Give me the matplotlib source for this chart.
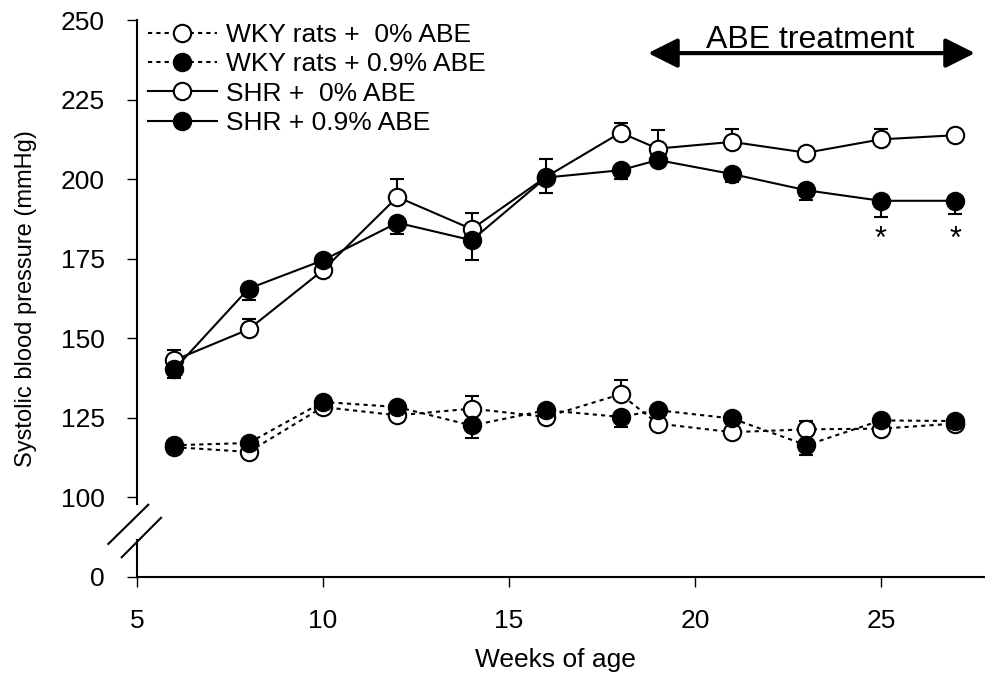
import matplotlib
matplotlib.use("Agg")
import matplotlib.pyplot as plt

plt.rcParams["font.family"] = "sans-serif"
plt.rcParams["font.sans-serif"] = ["Liberation Sans"]

weeks = [6, 8, 10, 12, 14, 16, 18, 19, 21, 23, 25, 27]

wky_0 = [115.8, 114.3, 128.4, 125.8, 127.9, 125.3, 132.4, 123.2, 120.5, 121.4, 121.6, 123.2]
wky_0_err = [1, 1, 1, 1, 4.0, 1, 4.4, 1, 1, 2.6, 1, 1]
wky_09 = [116.4, 117.1, 130.0, 128.4, 122.6, 127.4, 125.3, 127.4, 124.8, 116.4, 124.2, 124.0]
wky_09_err = [1, 1, 1, 1, 3.8, 1, 3.2, 1, 1, 3.2, 1, 1]

shr_0 = [143.1, 152.8, 171.4, 194.4, 184.3, 200.7, 214.6, 209.6, 211.7, 208.3, 212.5, 213.8]
shr_0_err = [3.1, 3.2, 1, 5.5, 5.2, 5.5, 3.1, 5.8, 4.0, 1, 3.2, 1]
shr_09 = [140.2, 165.6, 174.5, 186.3, 180.8, 200.5, 202.8, 206.0, 201.6, 196.5, 193.2, 193.2]
shr_09_err = [2.8, 3.6, 1, 3.6, 6.3, 5.0, 2.9, 1, 2.6, 3.1, 5.1, 4.0]

labels = ["WKY rats +  0% ABE", "WKY rats + 0.9% ABE", "SHR +  0% ABE", "SHR + 0.9% ABE"]
sig_weeks = [25, 27]

yticks = [75, 100, 125, 150, 175, 200, 225, 250]
ytick_labels = ["0", "100", "125", "150", "175", "200", "225", "250"]
xticks = [5, 10, 15, 20, 25]

fig = plt.figure(figsize=(9.85, 6.88), dpi=100)
ax = fig.add_axes([137 / 985, 111 / 688, 848 / 985, 557 / 688])

dot = (0, (2, 2))
series = [
    (wky_0, wky_0_err, "white", dot, "up"),
    (wky_09, wky_09_err, "black", dot, "down"),
    (shr_0, shr_0_err, "white", "-", "up"),
    (shr_09, shr_09_err, "black", "-", "down"),
]
zero = [0] * len(weeks)
handles = []
for (vals, err, face, ls, side), lab in zip(series, labels):
    yerr = [zero, err] if side == "up" else [err, zero]
    ax.errorbar(weeks, vals, yerr=yerr, fmt="none", ecolor="black",
                elinewidth=1.5, capsize=5, capthick=1.5, zorder=2)
    ln, = ax.plot(weeks, vals, color="black", linestyle=ls, lw=1.5,
                  marker="o", ms=12.5, mfc=face, mec="black", mew=1.5,
                  label=lab, zorder=3)
    handles.append(ln)

for w in sig_weeks:
    ax.text(w, 181.0, "*", ha="center", va="center", fontsize=22)

# treatment arrow
ax.annotate("", xy=(18.74, 239.6), xytext=(27.53, 239.6),
            arrowprops=dict(arrowstyle="<|-|>,head_length=0.9,head_width=0.45",
                            mutation_scale=20, lw=3, color="black",
                            shrinkA=0, shrinkB=0))
ax.text(23.09, 243.8, "ABE treatment", ha="center", va="center", fontsize=23)

ax.set_xlim(5, 27.8)
ax.set_ylim(75, 250)
ax.set_xticks(xticks)
ax.set_yticks(yticks)
ax.set_yticklabels(ytick_labels)
ax.tick_params(axis="both", direction="out", length=7, width=1,
               labelsize=19, pad=16)

ax.spines["top"].set_visible(False)
ax.spines["right"].set_visible(False)
ax.spines["left"].set_visible(False)
ax.spines["bottom"].set_linewidth(1.5)

# broken y axis
yt = ax.get_yaxis_transform()
ax.plot([0, 0], [250, 98], color="black", lw=1.5, transform=yt, clip_on=False)
ax.plot([0, 0], [86.5, 75], color="black", lw=1.5, transform=yt, clip_on=False)
ax.plot([-0.0338, 0.0133], [85.4, 97.7], color="black", lw=1.5, transform=yt, clip_on=False)
ax.plot([-0.018, 0.0283], [81.2, 93.6], color="black", lw=1.5, transform=yt, clip_on=False)

ax.set_xlabel("Weeks of age", fontsize=19)
ax.set_ylabel("Systolic blood pressure (mmHg)", fontsize=17)
ax.xaxis.set_label_coords(0.494, -0.128)
ax.yaxis.set_label_coords(-0.118, 0.5)

fig.legend(handles=handles, loc="upper left", bbox_to_anchor=(148 / 985, 665 / 688),
           frameon=False, fontsize=19, borderpad=0, borderaxespad=0,
           handlelength=2.6, handletextpad=0.35, labelspacing=0.2)

fig.savefig("out.png", dpi=100)
